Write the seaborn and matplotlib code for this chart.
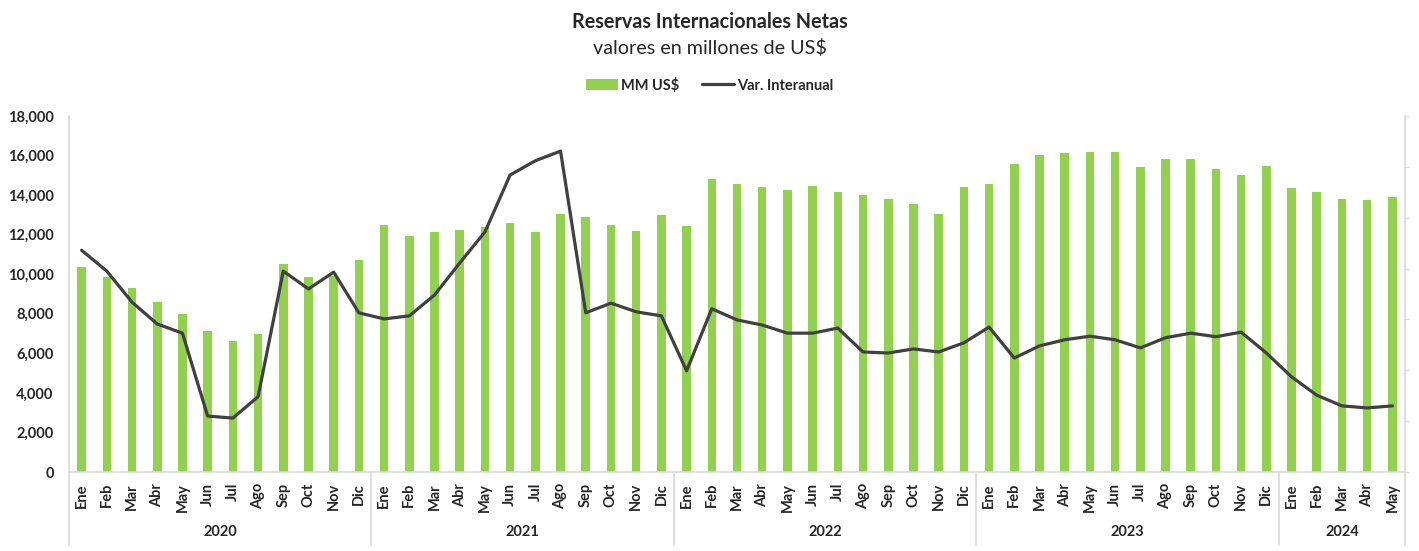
import numpy as np
import pandas as pd
import matplotlib
matplotlib.use("Agg")
import matplotlib.pyplot as plt
import matplotlib.transforms as mtransforms
from matplotlib.patches import Patch
from matplotlib.lines import Line2D
import seaborn as sns

# --- data ---
years = ["2020", "2021", "2022", "2023", "2024"]
months_per_year = [12, 12, 12, 12, 5]
month_names = ["Ene", "Feb", "Mar", "Abr", "May", "Jun",
               "Jul", "Ago", "Sep", "Oct", "Nov", "Dic"]

reservas_mm = [
    # 2020
    10380, 9860, 9300, 8600, 7990, 7130, 6620, 6980, 10520, 9860, 9920, 10720,
    # 2021
    12490, 11930, 12130, 12240, 12390, 12590, 12130, 13040, 12890, 12490, 12190, 12990,
    # 2022
    12440, 14810, 14560, 14410, 14260, 14460, 14160, 14000, 13800, 13550, 13040, 14410,
    # 2023
    14560, 15570, 16030, 16130, 16180, 16180, 15420, 15830, 15830, 15320, 15020, 15470,
    # 2024
    14360, 14160, 13800, 13750, 13900,
]

# year-on-year variation, drawn on a secondary (unlabelled) axis
var_interanual = [
    43.6, 39.5, 33.4, 29.1, 27.3, 11.0, 10.6, 14.8, 39.5, 36.0, 39.3, 31.3,
    30.1, 30.7, 34.8, 41.1, 47.2, 58.4, 61.2, 63.1, 31.3, 33.2, 31.5, 30.7,
    19.9, 32.1, 29.9, 28.9, 27.3, 27.3, 28.3, 23.6, 23.4, 24.2, 23.6, 25.4,
    28.5, 22.4, 24.8, 26.0, 26.7, 26.0, 24.4, 26.4, 27.3, 26.6, 27.5, 23.4,
    18.7, 15.1, 13.0, 12.6, 13.0,
]

month_labels = [m for n in months_per_year for m in month_names[:n]]

df = pd.DataFrame({
    "idx": np.arange(len(reservas_mm)),
    "mes": month_labels,
    "mm": reservas_mm,
    "var": var_interanual,
})

GREEN = "#92D050"
DARK = "#404040"
GRID_GRAY = "#D9D9D9"

sns.set_style("white")
plt.rcParams["font.family"] = ["Lato", "DejaVu Sans"]

fig = plt.figure(figsize=(14.19, 5.51), dpi=100)
ax = fig.add_axes([69 / 1419, 79 / 551, (1405 - 69) / 1419, 356 / 551])

sns.barplot(data=df, x="idx", y="mm", color=GREEN, width=0.34,
            saturation=1, linewidth=0, ax=ax, zorder=2)
ax.set_xlim(-0.5, len(df) - 0.5)
ax.set_ylim(0, 18000)
ax.set_yticks(np.arange(0, 18001, 2000))
ax.set_yticklabels([f"{v:,}" for v in range(0, 18001, 2000)],
                   fontsize=10.5, fontweight="bold")
ax.set_xticks(df["idx"])
ax.set_xticklabels(df["mes"], rotation=90, fontsize=10.5, fontweight="bold",
                   va="top")
ax.tick_params(axis="both", length=0, pad=8)
ax.tick_params(axis="y", pad=11)
ax.set_xlabel("")
ax.set_ylabel("")
for side in ["top", "right"]:
    ax.spines[side].set_visible(False)
for side in ["left", "bottom"]:
    ax.spines[side].set_color(GRID_GRAY)
    ax.spines[side].set_linewidth(1.2)

ax2 = ax.twinx()
sns.lineplot(x=df["idx"], y=df["var"], color=DARK, linewidth=2.3, ax=ax2,
             zorder=3)
ax2.set_ylim(0, 70)
ax2.set_yticks(np.arange(0, 71, 10))
ax2.set_yticklabels([])
ax2.set_ylabel("")
ax2.tick_params(axis="y", length=3, color=GRID_GRAY, direction="out")
for side in ["top", "left", "bottom"]:
    ax2.spines[side].set_visible(False)
ax2.spines["right"].set_color(GRID_GRAY)
ax2.spines["right"].set_linewidth(1.2)

# year groups below the month labels
trans = mtransforms.blended_transform_factory(ax.transData, ax.transAxes)
bounds = np.concatenate([[0], np.cumsum(months_per_year)]) - 0.5
for b in bounds:
    ax.plot([b, b], [0, -0.205], transform=trans, color=GRID_GRAY,
            linewidth=1.2, clip_on=False)
for i, yr in enumerate(years):
    ax.text((bounds[i] + bounds[i + 1]) / 2, -0.169, yr, transform=trans,
            ha="center", va="center", fontsize=10.5, fontweight="bold")

fig.text(0.5, 1 - 22 / 551, "Reservas Internacionales Netas", ha="center",
         va="center", fontsize=14.2, fontweight="bold")
fig.text(0.5, 1 - 48 / 551, "valores en millones de US$", ha="center",
         va="center", fontsize=14.2)

handles = [Patch(facecolor=GREEN, edgecolor="none"),
           Line2D([0], [0], color=DARK, linewidth=2.3)]
fig.legend(handles, ["MM US$", "Var. Interanual"], loc="center",
           bbox_to_anchor=(0.5, 1 - 85 / 551), ncol=2, frameon=False,
           prop={"weight": "bold", "size": 10.5}, handlelength=2.2,
           handletextpad=0.2, columnspacing=1.6)

fig.savefig("out.png", dpi=100)
